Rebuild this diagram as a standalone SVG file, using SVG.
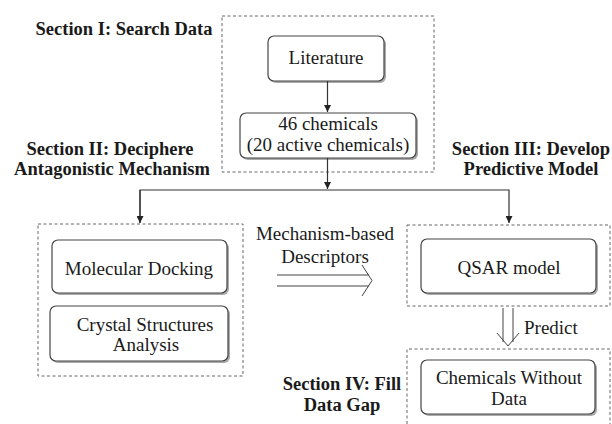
<svg xmlns="http://www.w3.org/2000/svg" width="612" height="424" viewBox="0 0 612 424" font-family="Liberation Serif, serif">
<defs>
<marker id="ah" viewBox="0 0 10 10" refX="10" refY="5" markerWidth="7" markerHeight="7" markerUnits="userSpaceOnUse" orient="auto">
<path d="M0,0 L10,5 L0,10 z" fill="#222"/>
</marker>
</defs>
<style>
.sec{fill:none;stroke:#666;stroke-width:1;stroke-dasharray:3,2.5}
.box{fill:#fff;stroke:#444;stroke-width:1.2}
.sh{fill:#aaa;stroke:none}
.t{font-family:'Liberation Serif',serif;font-size:19px;fill:#1a1a1a;text-anchor:middle}
.h{font-family:'Liberation Serif',serif;font-size:18.5px;font-weight:bold;fill:#1a1a1a;text-anchor:middle}
.ln{fill:none;stroke:#333;stroke-width:1.2}
.da{fill:none;stroke:#444;stroke-width:1}
</style>
<rect width="612" height="424" fill="#fff"/>
<g id="sections">
<rect class="sec" x="222" y="16" width="212" height="156"/>
<rect class="sec" x="38" y="224" width="205" height="152"/>
<path class="sec" d="M407,225 H610 V306 H407 Z"/>
<path class="sec" d="M407,424 V349 H610 V424"/>
</g>
<g id="labels">
<text class="h" x="124" y="35">Section I: Search Data</text>
<text class="h" x="110" y="155">Section II: Deciphere</text>
<text class="h" x="112" y="175">Antagonistic Mechanism</text>
<text class="h" x="531" y="155">Section III: Develop</text>
<text class="h" x="531" y="175">Predictive Model</text>
<text class="h" x="342" y="390">Section IV: Fill</text>
<text class="h" x="342" y="411">Data Gap</text>
</g>
<g id="literature">
<rect class="sh" x="270" y="38" width="116" height="45" rx="6"/>
<rect class="box" x="268" y="36" width="116" height="45" rx="6"/>
<text class="t" x="326" y="64">Literature</text>
</g>
<g id="chemicals46">
<rect class="sh" x="242" y="115" width="176" height="45" rx="6"/>
<rect class="box" x="240" y="113" width="176" height="45" rx="6"/>
<text class="t" x="328" y="130">46 chemicals</text>
<text class="t" x="328" y="151">(20 active chemicals)</text>
</g>
<g id="docking">
<rect class="sh" x="54" y="242" width="175" height="53" rx="6"/>
<rect class="box" x="52" y="240" width="175" height="53" rx="6"/>
<text class="t" x="139" y="275">Molecular Docking</text>
</g>
<g id="crystal">
<rect class="sh" x="52" y="308" width="178" height="55" rx="6"/>
<rect class="box" x="50" y="306" width="178" height="55" rx="6"/>
<text class="t" x="145" y="331">Crystal Structures</text>
<text class="t" x="146" y="351">Analysis</text>
</g>
<g id="qsar">
<rect class="sh" x="423" y="241" width="175" height="54" rx="6"/>
<rect class="box" x="421" y="239" width="175" height="54" rx="6"/>
<text class="t" x="509" y="274">QSAR model</text>
</g>
<g id="without">
<rect class="sh" x="423" y="362" width="174" height="54" rx="6"/>
<rect class="box" x="421" y="360" width="174" height="54" rx="6"/>
<text class="t" x="509" y="384">Chemicals Without</text>
<text class="t" x="509" y="405">Data</text>
</g>
<g id="connectors">
<line class="ln" x1="327.5" y1="81" x2="327.5" y2="112" marker-end="url(#ah)"/>
<line class="ln" x1="327.5" y1="158" x2="327.5" y2="189" marker-end="url(#ah)"/>
<polyline class="ln" points="140,223 140,190 509,190 509,223" marker-end="url(#ah)"/>
<line class="ln" x1="140" y1="190" x2="140" y2="223" marker-end="url(#ah)"/>
<path class="da" d="M277,275 H369 M277,286 H369 M362,265 L372,280.5 L362,296"/>
<path class="da" d="M503,308 V342 M513,308 V342 M497,333 L508,346 L519,333"/>
<text class="t" x="325" y="240">Mechanism-based</text>
<text class="t" x="325" y="263">Descriptors</text>
<text class="t" x="524" y="334" style="text-anchor:start">Predict</text>
</g>
</svg>
